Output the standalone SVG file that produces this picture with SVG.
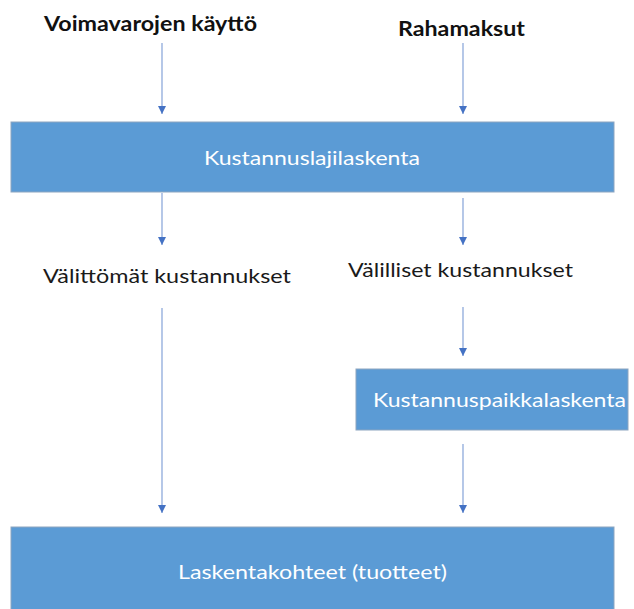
<svg xmlns="http://www.w3.org/2000/svg" width="634" height="609" viewBox="0 0 634 609">
<style>
.box{fill:#5B9BD5;stroke:#8DA5C0;stroke-width:1}
.wt{fill:#FFFFFF;font-family:Lato,"Open Sans","Liberation Sans",sans-serif;font-size:20px;text-anchor:middle}
.bt{fill:#1a1a1a;font-family:Lato,"Open Sans","Liberation Sans",sans-serif;font-size:20px;text-anchor:middle}
.hd{fill:#111111;font-family:Lato,"Open Sans","Liberation Sans",sans-serif;font-size:20px;font-weight:bold;text-anchor:middle}
.con{stroke:#8EAADB;stroke-width:1.3;fill:none;marker-end:url(#ah)}
</style>
<defs>
<marker id="ah" markerUnits="userSpaceOnUse" markerWidth="8" markerHeight="9" refX="8" refY="4" orient="auto" viewBox="0 0 8 8">
<path d="M0,0 L8,4 L0,8 z" fill="#4472C4"/>
</marker>
</defs>
<rect width="634" height="609" fill="#FFFFFF"/>
<g id="voimavarojen">
<text class="hd" x="150.5" y="31" textLength="213" lengthAdjust="spacingAndGlyphs">Voimavarojen käyttö</text>
</g>
<g id="rahamaksut">
<text class="hd" x="461.5" y="36" textLength="127" lengthAdjust="spacingAndGlyphs">Rahamaksut</text>
</g>
<g id="kustannuslajilaskenta">
<rect class="box" x="11" y="122" width="603" height="70"/>
<text class="wt" x="312" y="165" textLength="216" lengthAdjust="spacingAndGlyphs">Kustannuslajilaskenta</text>
</g>
<g id="valittomat">
<text class="bt" x="167" y="283" textLength="248" lengthAdjust="spacingAndGlyphs">Välittömät kustannukset</text>
</g>
<g id="valilliset">
<text class="bt" x="460.5" y="277" textLength="225" lengthAdjust="spacingAndGlyphs">Välilliset kustannukset</text>
</g>
<g id="kustannuspaikkalaskenta">
<rect class="box" x="356" y="369" width="272" height="61"/>
<text class="wt" x="499.5" y="407" textLength="253" lengthAdjust="spacingAndGlyphs">Kustannuspaikkalaskenta</text>
</g>
<g id="laskentakohteet">
<rect class="box" x="11" y="527" width="603" height="90"/>
<text class="wt" x="312.5" y="579" textLength="269" lengthAdjust="spacingAndGlyphs">Laskentakohteet (tuotteet)</text>
</g>
<g id="connectors">
<line class="con" x1="162" y1="43" x2="162" y2="114"/>
<line class="con" x1="463" y1="43" x2="463" y2="114"/>
<line class="con" x1="162" y1="193" x2="162" y2="245"/>
<line class="con" x1="463" y1="198" x2="463" y2="245"/>
<line class="con" x1="162" y1="308" x2="162" y2="513"/>
<line class="con" x1="463" y1="307" x2="463" y2="356"/>
<line class="con" x1="463" y1="444" x2="463" y2="513"/>
</g>
</svg>
